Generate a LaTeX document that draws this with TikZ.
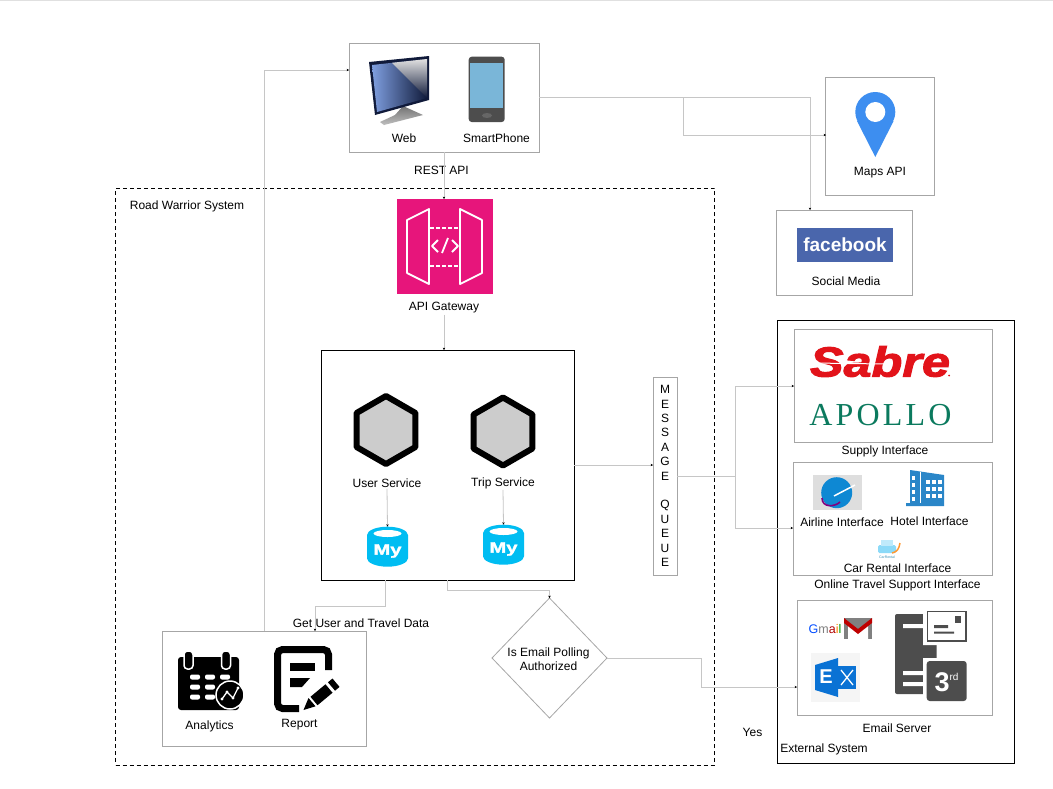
\documentclass[tikz,border=0pt]{standalone}
\usepackage{fontspec}
\setmainfont{Liberation Sans}
\newfontfamily\apollofont[LetterSpace=10]{Liberation Serif}
\newfontfamily\sabrefont[BoldItalicFeatures={FakeBold=2.5,FakeStretch=1.2}]{Liberation Sans}
\newfontfamily\myfont[BoldFeatures={FakeBold=2,FakeStretch=1.35}]{Liberation Sans}
\usetikzlibrary{arrows.meta,positioning,calc,shapes.geometric}
\definecolor{linegray}{HTML}{C6C6C6}
\definecolor{boxgray}{HTML}{A6A6A6}
\definecolor{pinblue}{HTML}{3D8EF0}
\definecolor{fbblue}{HTML}{4A66AC}
\definecolor{sabrered}{HTML}{E2131A}
\definecolor{apollogreen}{HTML}{0B7A5E}
\definecolor{gatepink}{HTML}{E7157B}
\definecolor{dbblue}{HTML}{00BDF2}
\definecolor{hotelblue}{HTML}{2A86C8}
\definecolor{msblue}{HTML}{0A72D4}
\definecolor{servergray}{HTML}{4D4D4D}
\definecolor{screenlight}{HTML}{7F9FE0}
\definecolor{screendark}{HTML}{101A3A}
\definecolor{phonescreen}{HTML}{7AB6D8}
\begin{document}
\begin{tikzpicture}[x=1pt,y=-1pt,>={Stealth[length=2.4pt,width=2.4pt,color=black]}]
\tikzset{
  box/.style={draw=boxgray,line width=1pt,fill=white,inner sep=0pt,outer sep=0pt},
  lbl/.style={inner sep=1pt,yshift=-1pt,font=\fontsize{12}{14}\selectfont},
  conn/.style={draw=linegray,line width=.8pt,->},
  hexa/.style={regular polygon,regular polygon sides=6,regular polygon rotate=30,draw=black,fill=black!20,line width=6pt,line join=round,minimum size=68pt,inner sep=0pt},
  dbcyl/.style={cylinder,shape border rotate=90,aspect=.6,fill=dbblue,minimum width=41pt,minimum height=40pt,inner sep=0pt,outer sep=0pt,text=white,font=\fontsize{15}{15}\selectfont\myfont\bfseries}
}
\useasboundingbox (0,0) rectangle (1053,788);
\fill[black!12] (0,0) rectangle (1053,1);

\node[draw=black,dashed,line width=1pt,dash pattern=on 4pt off 3pt,minimum width=599pt,minimum height=577pt,inner sep=0pt] (roadwarrior) at (415,476.5) {};
\node[draw=black,line width=1pt,minimum width=237pt,minimum height=443pt,inner sep=0pt] (external) at (895.5,541.5) {};

\node[box,minimum width=190pt,minimum height=109pt] (clientbox) at (444,97.5) {};
\node[box,minimum width=109pt,minimum height=118pt] (mapsbox) at (880,136) {};
\node[box,minimum width=136pt,minimum height=85pt] (socialbox) at (844.5,252.5) {};
\node[fill=gatepink,minimum width=96pt,minimum height=95pt,inner sep=0pt,outer sep=0pt] (apigw) at (445,246.5) {};
\node[draw=black,fill=white,line width=.9pt,minimum width=253pt,minimum height=230pt,inner sep=0pt,outer sep=0pt] (servicebox) at (447.5,465) {};
\node[box,minimum width=24pt,minimum height=198pt,align=center,font=\fontsize{12}{14.4}\selectfont] (queue) at (665,476) {M\\E\\S\\S\\A\\G\\E\\[14.4pt]Q\\U\\E\\U\\E};
\node[box,minimum width=198pt,minimum height=113pt] (supplybox) at (893,385.5) {};
\node[box,minimum width=199pt,minimum height=113pt] (onlinebox) at (892.5,518.5) {};
\node[box,minimum width=195pt,minimum height=115pt] (emailbox) at (894.5,657.5) {};
\node[box,minimum width=204pt,minimum height=115pt] (analyticsbox) at (264,688.5) {};
\node[diamond,draw=boxgray,line width=.8pt,fill=white,minimum width=115pt,minimum height=120pt,inner sep=0pt,outer sep=0pt] (pollcheck) at (549.5,658) {};
\node[lbl,align=center] (polltext) at (548.5,658.5) {Is Email Polling\\Authorized};

\node[lbl] (weblbl) at (404,137.5) {Web};
\node[lbl] (phonelbl) at (496.5,137.5) {SmartPhone};
\node[lbl] (restlbl) at (441.5,169) {REST API};
\node[lbl] (mapslbl) at (880,172) {Maps API};
\node[lbl] (sociallbl) at (846,280) {Social Media};
\node[lbl] (roadlbl) at (187,205) {Road Warrior System};
\node[lbl] (apilbl) at (444,307) {API Gateway};
\node[lbl] (userlbl) at (387,482) {User Service};
\node[lbl] (triplbl) at (503,482) {Trip Service};
\node[lbl] (datalbl) at (361,622) {Get User and Travel Data};
\node[lbl] (analyticslbl) at (209.5,725) {Analytics};
\node[lbl] (reportlbl) at (299.5,724) {Report};
\node[lbl] (supplylbl) at (885,450) {Supply Interface};
\node[lbl] (airlinelbl) at (842,521) {Airline Interface};
\node[lbl] (hotellbl) at (929.5,520) {Hotel Interface};
\node[lbl] (carlbl) at (897.5,567) {Car Rental Interface};
\node[lbl] (onlinelbl) at (897.5,584) {Online Travel Support Interface};
\node[lbl] (emaillbl) at (897,727) {Email Server};
\node[lbl] (yeslbl) at (752.5,731) {Yes};
\node[lbl] (externallbl) at (824,748) {External System};

\node[hexa] (userhex) at (386,430) {};
\node[hexa] (triphex) at (503,431.5) {};
\node[dbcyl] (userdb) at (387.5,551) {My};
\node[dbcyl] (tripdb) at (503.5,549) {My};
\fill[white] (387.5,533.5) ellipse (14 and 3.5);
\fill[white] (503.5,531.5) ellipse (14 and 3.5);

\coordinate (clientin) at (349,70);
\coordinate (mapsbend) at (683,97.5);
\coordinate (mapsin) at (826,135);
\coordinate (socialin) at (810,210);
\coordinate (queuesplit) at (735,476);
\coordinate (supplyin) at (794,386);
\coordinate (onlinein) at (793,528);
\coordinate (emailbend) at (701,658);
\coordinate (emailin) at (797,687);
\coordinate (dataout) at (385,580);
\coordinate (databend) at (385,606);
\coordinate (datain) at (315,631);
\coordinate (pollout) at (447,580);
\coordinate (pollbend) at (447,590);

\draw[conn] (analyticsbox.north) |- (clientin);
\draw[conn] (clientbox.east) -- (mapsbend) |- (mapsin);
\draw[conn] (clientbox.east) -| (socialin);
\draw[conn] (clientbox.south) -- (clientbox.south |- apigw.north);
\draw[conn] (apilbl.south) -- (apilbl.south |- servicebox.north);
\draw[conn] (servicebox.east) -- (servicebox.east -| queue.west);
\draw[conn] (queue.east) -- (queuesplit) |- (supplyin);
\draw[conn] (queuesplit) |- (onlinein);
\draw[conn] (userlbl.south) -- (userdb.north);
\draw[conn] (triplbl.south) -- (tripdb.north);
\draw[conn] (dataout) -- (databend) -| (datain);
\draw[conn] (pollout) -- (pollbend) -| (pollcheck.north);
\draw[conn] (pollcheck.east) -- (emailbend) |- (emailin);

% monitor
\shade[top color=black!55,bottom color=black!25] (403,106) -- (423,115) -- (384,125) -- (380,122) -- (395,115) -- cycle;
\fill[screendark] (369,62) -- (429,56) -- (429,100) -- (375,115) -- cycle;
\shade[left color=screenlight,right color=screendark] (372,65) -- (427,59) -- (427,98) -- (377,112) -- cycle;
\shade[top color=black!12,bottom color=screendark] (392,62.8) -- (427,59) -- (427,98) -- cycle;
% phone
\fill[servergray,rounded corners=3pt] (468.7,56.7) rectangle (504.7,122);
\fill[phonescreen] (470,62.7) rectangle (503.3,108.3);
\fill[black!60] (487,115.5) ellipse (5 and 2.5);
% pin
\fill[pinblue] (875.3,112) circle (20);
\fill[pinblue] (857,121) -- (875.3,157) -- (893.6,121) -- cycle;
\fill[white] (875.3,112) circle (10);
% facebook
\node[fill=fbblue,text=white,minimum width=96.6pt,minimum height=33.4pt,inner sep=0pt,font=\fontsize{19}{19}\selectfont\bfseries] (fblogo) at (845,245) {facebook};
% gateway
\begin{scope}[white,line width=1.8pt,line join=round]
\draw (429,209) -- (407,220) -- (407,273) -- (429,284) -- cycle;
\draw (460,209) -- (482,220) -- (482,273) -- (460,284) -- cycle;
\draw[dash pattern=on 3.5pt off 2.5pt] (430,228) -- (460,228);
\draw[dash pattern=on 3.5pt off 2.5pt] (430,266) -- (460,266);
\draw (438,240) -- (432,246) -- (438,252);
\draw (452,240) -- (458,246) -- (452,252);
\draw (448,238) -- (442,253);
\end{scope}
% sabre, apollo
\node[text=sabrered,inner sep=0pt,font=\fontsize{42}{42}\selectfont\sabrefont\bfseries\itshape] (sabrelogo) at (880,361.5) {Sabre};
\draw[white,line width=1pt] (813,363) -- (885,364);
\fill[sabrered] (949,375.5) circle (1);
\node[text=apollogreen,inner sep=0pt,font=\fontsize{32}{32}\selectfont\apollofont] (apollologo) at (880.5,415) {APOLLO};
% airline
\fill[black!13] (813,475.3) rectangle (861.7,510);
\fill[cyan!70!blue] (836.7,492.7) circle (15.5);
\draw[violet,line width=1.6pt] (822,498) .. controls (822,508) and (835,507) .. (840,502);
\draw[white,line width=1.5pt] (834,496) -- (855,485);
% hotel
\fill[hotelblue] (910,470) -- (944,475) -- (944,506) -- (906,506) -- (906,503) -- (910,503) -- cycle;
\foreach \wx in {926,932,938} \foreach \wy in {480,487,494} \fill[white] (\wx,\wy) rectangle +(3.5,4);
\foreach \wy in {476,483,490,497} \fill[white] (912,\wy) rectangle +(3,3.5);
\draw[white,line width=1pt] (920,472) -- (920,503);
% car rental
\fill[cyan!45,rounded corners=1.5pt] (878,545) rectangle (896,553);
\fill[cyan!25] (881,540) rectangle (893,546);
\draw[orange!80,line width=1.5pt] (892,553) .. controls (897,552) and (899,549) .. (900,543);
\node[inner sep=0pt,text=cyan!70!black,font=\fontsize{3.5}{4}\selectfont] (carlogo) at (887,557) {CarRental};
% gmail
\node[inner sep=0pt,font=\fontsize{12.5}{13}\selectfont] (gmailtext) at (825,629) {\textcolor{blue!70!cyan}{G}\textcolor{black!50}{m}\textcolor{red!70!black}{a}\textcolor{orange}{i}\textcolor{green!60!black}{l}};
\fill[black!50] (844,618) rectangle (872,639);
\fill[white] (848,625) -- (858,633) -- (868,625) -- (868,639) -- (848,639) -- cycle;
\fill[red!75!black] (844,618) -- (858,629) -- (872,618) -- (872,623) -- (858,634) -- (844,623) -- cycle;
% exchange
\fill[black!4] (811,652.7) rectangle (860,701.7);
\fill[msblue] (838,666) rectangle (856,689);
\draw[white,line width=1.3pt] (841,670) -- (853,685) (853,670) -- (841,685);
\fill[msblue] (815,665) -- (838,658) -- (838,697) -- (815,690) -- cycle;
\node[inner sep=0pt,text=white,font=\fontsize{20}{20}\selectfont\bfseries] (exchangeE) at (826,677) {E};
% server
\fill[servergray,rounded corners=2pt] (895,614) rectangle (936.7,694);
\fill[white] (903,624) rectangle (923,628) (903,671) rectangle (923,675) (903,682) rectangle (923,686);
\fill[white] (923,608) rectangle (970,645) (923,658) rectangle (970,704);
\draw[servergray,fill=white,line width=1.6pt] (927.5,611.5) rectangle (966,641);
\fill[servergray] (955,616) rectangle (961,623);
\fill[servergray] (934,625) rectangle (948,628) (934,631.5) rectangle (954,633.5);
\node[fill=servergray,rounded corners=3pt,minimum width=40pt,minimum height=40pt,inner sep=0pt] (thirdbox) at (946.7,681) {};
\node[inner sep=0pt,text=white,font=\fontsize{27}{27}\selectfont\bfseries] (thirdnum) at (942,682) {3};
\node[inner sep=0pt,text=white,font=\fontsize{10}{10}\selectfont] (thirdrd) at (954,677) {rd};
% calendar
\fill[black,rounded corners=3pt] (178,657) rectangle (239,710);
\foreach \rx in {188.5,226} {
  \draw[white,fill=black,line width=1.5pt,rounded corners=3.5pt] (\rx-4.5,651) rectangle (\rx+4.5,669);
}
\foreach \cx in {195,210} \foreach \cy in {677,687,697} \fill[white,rounded corners=2pt] (\cx-5,\cy-2.5) rectangle (\cx+5,\cy+2.5);
\fill[white,rounded corners=2pt] (220,674.5) rectangle (230,679.5);
\draw[white,fill=black,line width=1.5pt] (230,695) circle (14);
\draw[white,line width=1.3pt] (222,699) -- (227,692) -- (233,698) -- (238,688);
\foreach \px/\py in {222/699,227/692,233/698,238/688} \fill[white] (\px,\py) circle (1.7);
% report
\draw[black,line width=7pt,rounded corners=5pt] (328.5,670) -- (328.5,649.5) -- (277.5,649.5) -- (277.5,708.5) -- (299,708.5);
\fill[black] (290,663) rectangle (315,671);
\fill[black] (290,678) -- (310,678) -- (302,687) -- (290,687) -- cycle;
\draw[white,line width=15pt] (305,708) -- (340,679);
\draw[black,line width=11pt] (314,701) -- (329,688.5);
\draw[black,line width=11pt] (331.5,686.5) -- (336,682.7);
\fill[black] (303.5,710) -- (308.5,698) -- (315.5,706.3) -- cycle;
\end{tikzpicture}
\end{document}
